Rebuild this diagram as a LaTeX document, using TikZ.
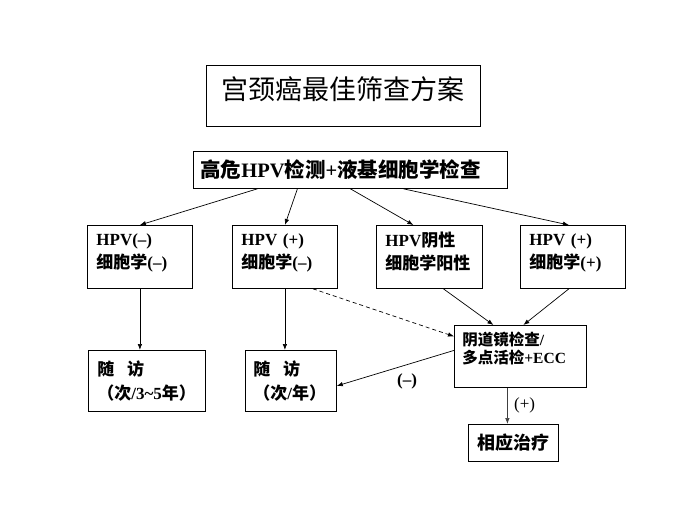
\documentclass[tikz,border=0pt]{standalone}
\usepackage{fontspec}
\setmainfont{Liberation Serif}
\newfontfamily\cjk{Noto Sans CJK SC}
\newcommand{\zh}[1]{{\cjk #1}}
\usetikzlibrary{arrows.meta,calc}

\begin{document}
\begin{tikzpicture}[x=1pt,y=-1pt,
    box/.style={draw, line width=0.8pt, anchor=north west, align=left, inner xsep=9pt, inner ysep=2pt},
    res/.style={box, text width=87pt, minimum height=63pt, text depth=35pt, font=\fontsize{17}{23}\selectfont\bfseries},
    fu/.style={box, minimum height=61pt, font=\fontsize{17}{24}\selectfont\bfseries},
    >={Latex[length=6pt,width=4.5pt]},
    link/.style={->, line width=0.7pt}]

  \useasboundingbox (0,0) rectangle (700,525);

  % title and first test
  \node[box, align=center, inner xsep=8pt, text width=258pt, minimum height=61pt, text depth=16pt,
        font=\fontsize{27}{30}\selectfont] (title) at (206,65) {\zh{宫颈癌最佳筛查方案}};
  \node[box, inner xsep=7pt, text width=300pt, minimum height=37pt,
        font=\fontsize{20.5}{24}\selectfont\bfseries] (test) at (193,151) {\zh{高危}HPV\zh{检测}+\zh{液基细胞学检查}};

  % results
  \node[res] (neg) at (87,225) {HPV(–)\\\zh{细胞学}(–)};
  \node[res] (hpvpos) at (232,225) {HPV (+)\\\zh{细胞学}(–)};
  \node[res, text width=88pt] (cytpos) at (376,225) {HPV\zh{阴性}\\\zh{细胞学阳性}};
  \node[res] (bothpos) at (520,225) {HPV (+)\\\zh{细胞学}(+)};

  % follow up
  \node[fu, text width=99pt] (fu5) at (88,350) {\zh{随}\hspace{0.75em}\zh{访}\\\zh{（次}/3\textasciitilde5\zh{年）}};
  \node[fu, inner xsep=8pt, text width=75pt] (fu1) at (245,350) {\zh{随}\hspace{0.75em}\zh{访}\\\zh{（次}/\zh{年）}};
  \node[box, inner xsep=8pt, text width=116pt, minimum height=62pt, text depth=36pt,
        font=\fontsize{15.5}{18.5}\selectfont\bfseries] (colpo) at (454,325) {\zh{阴道镜检查}/\\\zh{多点活检}+ECC};
  \node[box, align=center, inner xsep=8pt, text width=74pt, minimum height=37pt,
        font=\fontsize{18}{22}\selectfont\bfseries] (treat) at (468,424) {\zh{相应治疗}};

  % connectors
  \draw[link] ($(test.south)+(-93,0)$) -- (neg.north);
  \draw[link] ($(test.south)+(-53,0)$) -- (hpvpos.north);
  \draw[link] (test.south) -- ($(cytpos.north)+(-16,0)$);
  \draw[link] ($(test.south)+(53,0)$) -- ($(bothpos.north)+(-4,0)$);

  \draw[link] (neg.south) -- (neg.south |- fu5.north);
  \draw[link] (hpvpos.south) -- (hpvpos.south |- fu1.north);

  \draw[link] ($(cytpos.south)+(14,0)$) -- ($(colpo.north)+(-27,0)$);
  \draw[link] ($(bothpos.south)+(-4,0)$) -- ($(colpo.north)+(3,0)$);
  \draw[link, dash pattern=on 4pt off 3pt] ($(hpvpos.south)+(28,0)$) -- ($(colpo.west)+(0,-20)$);

  \draw[link] ($(colpo.west)+(0,-6)$) -- ($(fu1.east)+(0,5)$)
    node[pos=0.4, below=5pt, font=\fontsize{17}{20}\selectfont\bfseries] {(–)};
  \draw[link, gray!50!black] ($(colpo.south)+(-13,0)$) -- ($(treat.north)+(-6,0)$)
    node[midway, right=3pt, black, font=\fontsize{17}{20}\selectfont] {(+)};

\end{tikzpicture}
\end{document}
